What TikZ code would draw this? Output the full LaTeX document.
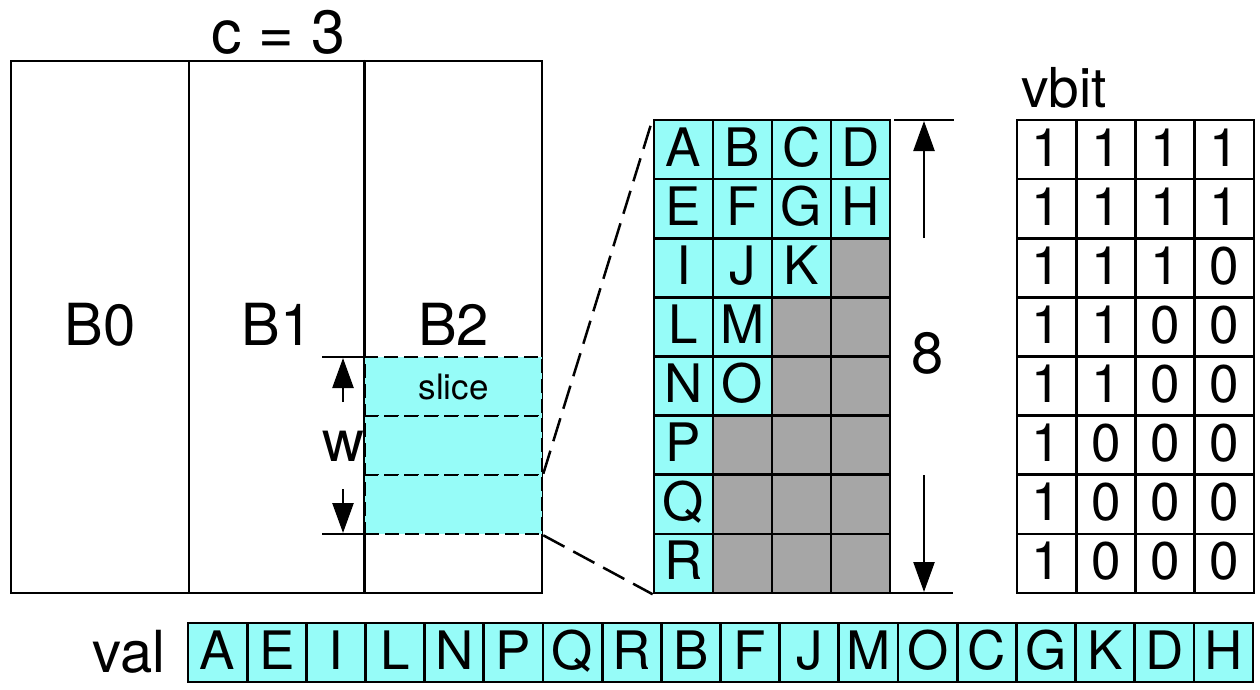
\documentclass[tikz,border=0pt]{standalone}
\usepackage{fontspec}
\setmainfont{TeX Gyre Heros}
\usetikzlibrary{arrows.meta}
\definecolor{cyanfill}{RGB}{150,252,248}
\definecolor{grayfill}{RGB}{166,166,166}
\begin{document}
\begin{tikzpicture}[x=1pt,y=-1pt,line width=2.5pt,
  cell/.style={draw, line width=2.6pt, minimum width=59pt, minimum height=59.1pt, inner sep=0pt,
    text height=38pt, text depth=5pt, font=\fontsize{53}{60}\selectfont},
  bigbox/.style={draw, line width=2.5pt, minimum height=532pt, inner sep=0pt},
  slicebox/.style={draw, dash pattern=on 14pt off 6pt, line width=2.6pt, fill=cyanfill,
    minimum width=177pt, minimum height=59pt, inner sep=0pt, text height=25pt, text depth=0pt,
    font=\fontsize{35}{40}\selectfont},
  lbl/.style={inner sep=0pt, font=\fontsize{58}{64}\selectfont},
  zoomdash/.style={dash pattern=on 24pt off 10pt, line width=2.5pt},
  dimarrow/.style={-{Triangle[length=30pt,width=21pt]}, line width=2.5pt}]
\useasboundingbox (0,0) rectangle (1260,690);

% big boxes
\node[bigbox, minimum width=178pt] (B0) at (100,327) {};
\node[bigbox, minimum width=176pt] (B1) at (277,327) {};
\node[bigbox, minimum width=177pt] (B2) at (453.5,327) {};
\node[lbl, anchor=base] (B0l) at (100,345) {B0};
\node[lbl, anchor=base] (B1l) at (277,345) {B1};
\node[lbl, anchor=base] (B2l) at (453.5,345) {B2};
\node[lbl, anchor=base, font=\fontsize{61}{66}\selectfont] (ctext) at (278,54) {c = 3};

% slices
\node[slicebox] (s1) at (453.5,386.5) {slice};
\node[slicebox] (s2) at (453.5,445.5) {};
\node[slicebox] (s3) at (453.5,504.5) {};
\draw (B2.north west) -- (B2.south west);

% w dimension
\coordinate (wta) at (322,357);
\coordinate (wtb) at (365,357);
\coordinate (wba) at (322,534);
\coordinate (wbb) at (365,534);
\draw (wta) -- (wtb);
\draw (wba) -- (wbb);
\coordinate (wus) at (343,402);
\coordinate (wut) at (343,358);
\coordinate (wds) at (343,489);
\coordinate (wdt) at (343,533);
\draw[dimarrow] (wus) -- (wut);
\draw[dimarrow] (wds) -- (wdt);
\node[lbl, anchor=base] (wlbl) at (343,461) {w};

% grid
\def\gr{-}
\foreach \row [count=\r] in {{A,B,C,D},{E,F,G,H},{I,J,K,-},{L,M,-,-},{N,O,-,-},{P,-,-,-},{Q,-,-,-},{R,-,-,-}}{
  \foreach \t [count=\c] in \row {
    \ifx\t\gr
      \node[cell, fill=grayfill] (g\r\c) at ({654+59*(\c-0.5)},{120+59.125*(\r-0.5)}) {};
    \else
      \node[cell, fill=cyanfill] (g\r\c) at ({654+59*(\c-0.5)},{120+59.125*(\r-0.5)}) {\t};
    \fi
  }
}

% zoom lines
\draw[zoomdash] (s3.north east) -- (g11.north west);
\draw[zoomdash] (s3.south east) -- (g81.south west);

% 8 dimension
\coordinate (eta) at (894,120);
\coordinate (etb) at (954,120);
\coordinate (eba) at (891,593);
\coordinate (ebb) at (953,593);
\draw (eta) -- (etb);
\draw (eba) -- (ebb);
\coordinate (eus) at (924,238);
\coordinate (eut) at (924,121);
\coordinate (eds) at (924,475);
\coordinate (edt) at (924,592);
\draw[dimarrow] (eus) -- (eut);
\draw[dimarrow] (eds) -- (edt);
\node[lbl, anchor=base] (elbl) at (928,373) {8};

% vbit
\node[lbl, anchor=base west, font=\fontsize{55}{60}\selectfont] (vbitl) at (1020,108) {vbit};
\foreach \row [count=\r] in {{1,1,1,1},{1,1,1,1},{1,1,1,0},{1,1,0,0},{1,1,0,0},{1,0,0,0},{1,0,0,0},{1,0,0,0}}{
  \foreach \t [count=\c] in \row {
    \node[cell, fill=white] (b\r\c) at ({1017+59.25*(\c-0.5)},{120+59.125*(\r-0.5)}) {\t};
  }
}

% val
\node[lbl, anchor=base east] (vall) at (167,672) {val};
\foreach \t [count=\i] in {A,E,I,L,N,P,Q,R,B,F,J,M,O,C,G,K,D,H}{
  \node[cell, fill=cyanfill] (v\i) at ({188+59.17*(\i-0.5)},652.5) {\t};
}
\end{tikzpicture}
\end{document}
